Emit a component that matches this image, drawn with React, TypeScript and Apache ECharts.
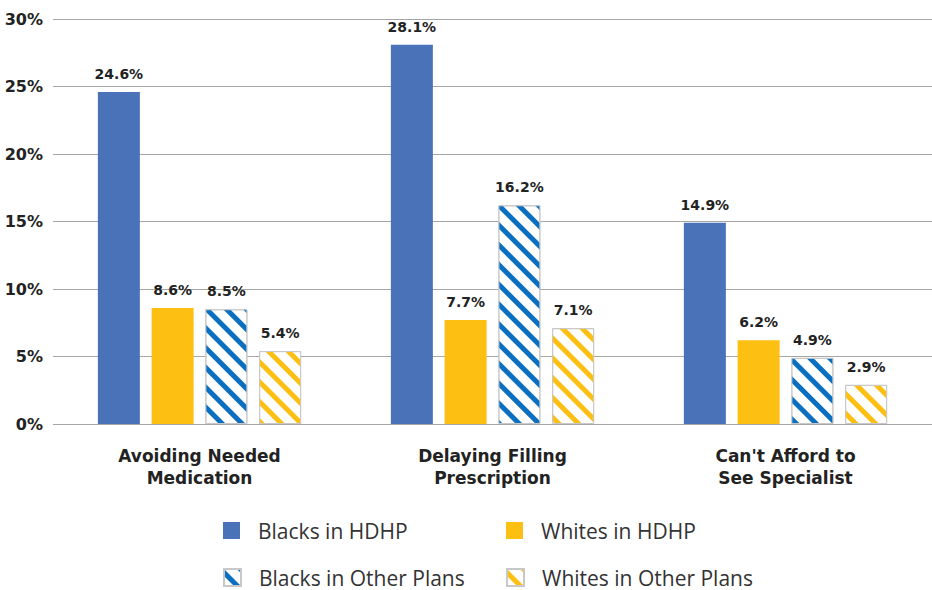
import React, { useEffect, useRef } from "react";
import * as echarts from "echarts";

const categories = ["Avoiding Needed\nMedication", "Delaying Filling\nPrescription", "Can't Afford to\nSee Specialist"];
const blacksHDHP = [24.6, 28.1, 14.9];
const whitesHDHP = [8.6, 7.7, 6.2];
const blacksOther = [8.5, 16.2, 4.9];
const whitesOther = [5.4, 7.1, 2.9];
const yTicks = [0, 5, 10, 15, 20, 25, 30];

const FONT = "DejaVu Sans";
const FONT2 = "Open Sans";
const BLUE = "#4a72b8";
const YELLOW = "#fdbf12";
const HATCH_BLUE = "#0a6fc0";
const HATCH_YELLOW = "#fdbf12";

function hatch(color: string) {
  return {
    symbol: "rect",
    symbolSize: 1,
    color,
    dashArrayX: [1, 0],
    dashArrayY: [5, 8.5],
    rotation: Math.PI / 4,
  };
}

export default function App() {
  const ref = useRef<HTMLDivElement>(null);
  useEffect(() => {
    if (!ref.current) return;
    const chart = echarts.init(ref.current, undefined, { renderer: "svg" });
    const label = {
      show: true,
      position: "top",
      distance: 11,
      formatter: (p: any) => p.value.toFixed(1) + "%",
      fontFamily: FONT,
      fontWeight: "bold",
      fontSize: 14,
      color: "#222",
    };
    const mk = (name: string, data: number[], solid: boolean, color: string) => ({
      name,
      type: "bar",
      data,
      barWidth: 42,
      barGap: "28%",
      label,
      itemStyle: solid
        ? { color }
        : { color: "#ffffff", borderColor: "#c8c8c8", borderWidth: 1, decal: hatch(color) },
    });
    const legendBase = {
      orient: "horizontal",
      itemWidth: 17,
      itemHeight: 17,
      itemGap: 0,
      padding: 0,
      icon: "rect",
      textStyle: { fontFamily: FONT2, fontSize: 21, color: "#333", padding: [0, 0, 0, 13] },
    };
    chart.setOption({
      animation: false,
      backgroundColor: "#ffffff",
      grid: { left: 53, right: -4, top: 19, bottom: 166, containLabel: false },
      legend: [
        { ...legendBase, data: ["Blacks in HDHP"], left: 223, top: 520 },
        { ...legendBase, data: ["Whites in HDHP"], left: 506, top: 520 },
        { ...legendBase, data: ["Blacks in Other Plans"], left: 223, top: 567 },
        { ...legendBase, data: ["Whites in Other Plans"], left: 506, top: 567 },
      ],
      xAxis: {
        type: "category",
        data: categories,
        axisLine: { show: false },
        axisTick: { show: false },
        axisLabel: {
          fontFamily: FONT,
          fontWeight: "bold",
          fontSize: 17,
          color: "#222",
          lineHeight: 22,
          margin: 21,
        },
      },
      yAxis: {
        type: "value",
        min: 0,
        max: 30,
        interval: 5,
        axisLine: { show: false },
        axisTick: { show: false },
        splitLine: { lineStyle: { color: "#a6a6a6", width: 1 } },
        axisLabel: {
          formatter: (v: number) => (yTicks.includes(v) ? v + "%" : ""),
          fontFamily: FONT,
          fontWeight: "bold",
          fontSize: 16,
          color: "#222",
          margin: 10,
        },
      },
      series: [
        mk("Blacks in HDHP", blacksHDHP, true, BLUE),
        mk("Whites in HDHP", whitesHDHP, true, YELLOW),
        mk("Blacks in Other Plans", blacksOther, false, HATCH_BLUE),
        mk("Whites in Other Plans", whitesOther, false, HATCH_YELLOW),
      ],
    });
    return () => chart.dispose();
  }, []);
  return (
    <div
      ref={ref}
      style={{ width: 932, height: 590, position: "fixed", left: 0, top: 0 }}
    />
  );
}
